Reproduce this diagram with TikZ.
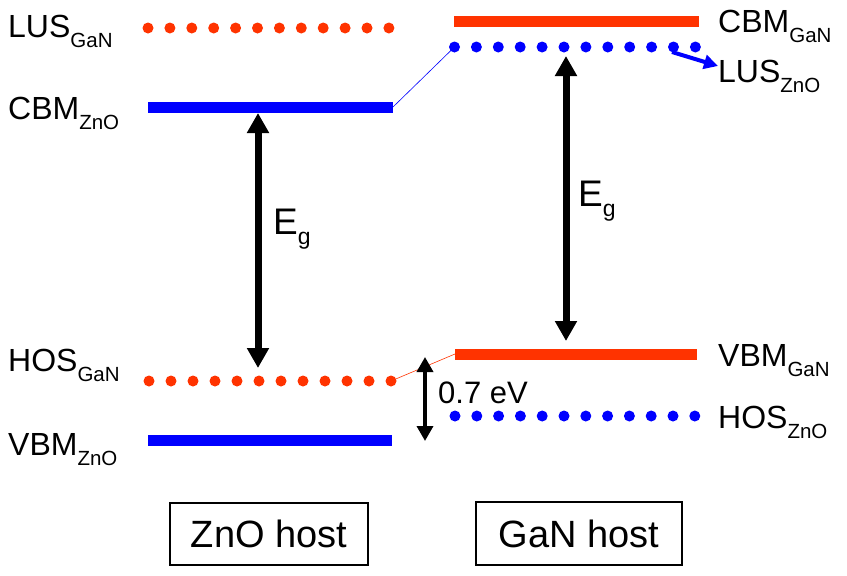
\documentclass[tikz,border=0pt]{standalone}
\usepackage{fontspec}
\setmainfont{Liberation Sans}
\usetikzlibrary{arrows.meta}
\definecolor{bandred}{RGB}{255,51,0}
\definecolor{bandblue}{RGB}{0,0,255}
\newcommand{\lbl}[2]{{\fontsize{32}{36}\selectfont #1}{\fontsize{20.5}{22}\selectfont\raisebox{-10pt}{#2}}}
\newcommand{\eglbl}{{\fontsize{37}{40}\selectfont E}{\fontsize{23}{25}\selectfont\raisebox{-10pt}{g}}}
\begin{document}
\begin{tikzpicture}[x=1pt,y=-1pt,
  bar/.style={line width=11pt},
  thin/.style={line width=0.6pt},
  egarrow/.style={line width=7pt,{Triangle[width=21pt,length=20pt]}-{Triangle[width=21pt,length=20pt]}},
  smallarrow/.style={line width=3.5pt,{Triangle[width=16pt,length=15pt]}-{Triangle[width=16pt,length=15pt]}},
  lab/.style={anchor=base west,inner sep=0pt},
  hostbox/.style={draw,line width=2pt,inner sep=0pt,font=\fontsize{38}{40}\selectfont}
]
\useasboundingbox (0,0) rectangle (847,576);
% bars
\coordinate (cz1) at (148,107); \coordinate (cz2) at (393,107);
\coordinate (cg1) at (454,21.5); \coordinate (cg2) at (699,21.5);
\coordinate (vg1) at (455,354); \coordinate (vg2) at (697,354);
\coordinate (vz1) at (148,440); \coordinate (vz2) at (392,440);
\draw[bar,bandblue] (cz1) -- (cz2);
\draw[bar,bandred] (cg1) -- (cg2);
\draw[bar,bandred] (vg1) -- (vg2);
\draw[bar,bandblue] (vz1) -- (vz2);
% dotted levels
\foreach \i in {0,...,11}{
  \fill[bandred] (148+\i*21.9,28) circle (5.5pt);
  \fill[bandblue] (454.5+\i*21.9,47) circle (5.5pt);
  \fill[bandred] (149+\i*22.0,381) circle (5.5pt);
  \fill[bandblue] (455+\i*21.8,416) circle (5.5pt);
}
\coordinate (lz1) at (454.5,47);
\coordinate (hg2) at (391,381);
% thin connectors
\draw[thin,bandblue] (cz2) -- (lz1);
\draw[thin,bandred] (hg2) -- (vg1);
% Eg arrows
\coordinate (e1a) at (258,113); \coordinate (e1b) at (258,368);
\coordinate (e2a) at (566,56); \coordinate (e2b) at (566,341);
\draw[egarrow] (e1a) -- (e1b);
\draw[egarrow] (e2a) -- (e2b);
\node[lab] (eg1) at (273,234) {\eglbl};
\node[lab] (eg2) at (578,206) {\eglbl};
% 0.7 eV
\coordinate (d1) at (425,357); \coordinate (d2) at (425,441);
\draw[smallarrow] (d1) -- (d2);
\node[lab] (ev) at (438,403) {\fontsize{31}{34}\selectfont 0.7 eV};
% blue pointer
\coordinate (pa) at (672,52); \coordinate (pb) at (718,66);
\draw[bandblue,line width=4pt,-{Triangle[width=14pt,length=14pt]}] (pa) -- (pb);
% labels
\node[lab] (l1) at (8,37) {\lbl{LUS}{GaN}};
\node[lab] (l2) at (8,119) {\lbl{CBM}{ZnO}};
\node[lab] (l3) at (8,371) {\lbl{HOS}{GaN}};
\node[lab] (l4) at (8,455) {\lbl{VBM}{ZnO}};
\node[lab] (r1) at (718,32) {\lbl{CBM}{GaN}};
\node[lab] (r2) at (718,82) {\lbl{LUS}{ZnO}};
\node[lab] (r3) at (718,366) {\lbl{VBM}{GaN}};
\node[lab] (r4) at (718,428) {\lbl{HOS}{ZnO}};
% host boxes
\node[hostbox,minimum width=198pt,minimum height=62pt] (zb) at (269,534) {ZnO host};
\node[hostbox,minimum width=206pt,minimum height=63pt] (gb) at (579,533.5) {GaN host};
\end{tikzpicture}
\end{document}
